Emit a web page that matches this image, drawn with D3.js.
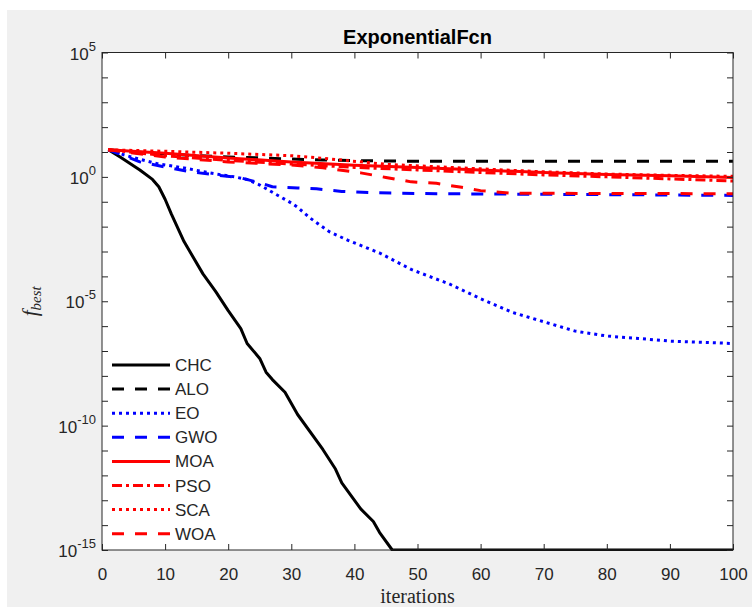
<!DOCTYPE html>
<html><head><meta charset="utf-8">
<script src="https://cdn.jsdelivr.net/npm/d3@7"></script>
<style>body{margin:0;background:#fff}svg{display:block}</style>
</head><body><svg id="c" width="752" height="607"></svg>
<script>
// ---- data ----
const seriesNames = ["CHC","ALO","EO","GWO","MOA","PSO","SCA","WOA"];
const xTicks = [0,10,20,30,40,50,60,70,80,90,100];
const yTickLabels = [5,0,-5,-10,-15]; // exponents of labelled decades

const chcIter = [1,3,6,8,9,10,11,13,16,18,20,22,23,25,26,27,29,31,35,37,38,41,43,44,46,100];
const chcVal  = [12.3,6.0,1.9,0.79,0.40,0.126,0.032,2.5e-3,1.26e-4,2.5e-5,4.2e-6,7.9e-7,2.0e-7,5.0e-8,1.4e-8,7.1e-9,2.2e-9,2.8e-10,1.1e-11,1.8e-12,5.0e-13,4.5e-14,1.4e-14,5.0e-15,1e-15,1e-15];

const aloIter = [1,5,10,15,20,25,30,35,45,100];
const aloVal  = [12.3,10,8.3,7.2,6.3,5.8,5.2,4.8,4.3,4.2];

const eoIter = [1,2,5,9,13,17,21,23,25,27,30,31,33,36,39,44,49,55,60,65,70,75,80,85,90,100];
const eoVal  = [12.3,10,5.9,3.3,2.3,1.45,1.0,0.79,0.47,0.24,0.089,0.060,0.022,6.3e-3,2.8e-3,8.7e-4,1.9e-4,5.0e-5,1.26e-5,3.6e-6,1.5e-6,6.3e-7,4.0e-7,3.2e-7,2.5e-7,2.0e-7];

const gwoIter = [1,2,6,10,14,18,22,25,27,31,34,38,43,53,70,100];
const gwoVal  = [12.3,10,4.0,2.5,1.6,1.2,0.91,0.58,0.40,0.36,0.33,0.26,0.23,0.21,0.20,0.18];

const moaIter = [1,10,20,30,40,50,60,70,80,90,100];
const moaVal  = [12.3,8.9,5.8,4.0,2.95,2.4,1.9,1.5,1.26,1.1,0.95];

const psoIter = [1,10,20,30,40,50,60,70,80,90,100];
const psoVal  = [12.3,7.1,4.6,3.3,2.4,1.9,1.5,1.2,1.0,0.83,0.68];

const scaIter = [1,10,20,30,35,45,60,70,80,90,100];
const scaVal  = [12.3,10.7,8.9,7.1,5.6,3.2,2.1,1.6,1.3,1.15,1.05];

const woaIter = [1,10,20,30,35,41,45,49,53,57,60,65,100];
const woaVal  = [12.3,6.3,4.0,3.0,2.3,1.45,0.95,0.63,0.55,0.38,0.28,0.22,0.21];

const seriesIters = [chcIter,aloIter,eoIter,gwoIter,moaIter,psoIter,scaIter,woaIter];
const seriesVals  = [chcVal,aloVal,eoVal,gwoVal,moaVal,psoVal,scaVal,woaVal];

// ---- styles ----
const seriesColor = ["#000000","#000000","#0000ff","#0000ff","#ff0000","#ff0000","#ff0000","#ff0000"];
const seriesDash  = [null,"12,11","3,4","12,11",null,"10,4,3,4","3,4","12,11"];

const svg = d3.select("#c");
const L=102, R=733, T=52.5, B=550;
const ink = "#262626";
const lw = 3;

svg.append("rect").attr("x",7).attr("y",10).attr("width",745).attr("height",597).attr("fill","#f0f0f0");
svg.append("rect").attr("x",L).attr("y",T).attr("width",R-L).attr("height",B-T).attr("fill","#fff");

const x = d3.scaleLinear().domain([0,100]).range([L,R]);
const y = d3.scaleLog().domain([1e-15,1e5]).range([B,T]);
const decades = d3.range(-15,6).map(e=>Math.pow(10,e));

svg.append("defs").append("clipPath").attr("id","clip")
  .append("rect").attr("x",L).attr("y",T-1).attr("width",R-L).attr("height",B-T+2);

// lines
const line = d3.line().x(d=>x(d[0])).y(d=>y(d[1]));
const g = svg.append("g").attr("clip-path","url(#clip)");
seriesNames.forEach((n,i)=>{
  const pts = seriesIters[i].map((it,k)=>[it,seriesVals[i][k]]);
  g.append("path").datum(pts).attr("d",line)
    .attr("fill","none").attr("stroke",seriesColor[i]).attr("stroke-width",lw)
    .attr("stroke-linejoin","round")
    .attr("stroke-dasharray",seriesDash[i]);
});

// axes
const fontSans = "'Liberation Sans', Arial, sans-serif";
const ax = (sel)=>{sel.select(".domain").remove(); sel.selectAll("line").attr("stroke",ink);
  sel.selectAll("text").attr("fill",ink).style("font-family",fontSans).style("font-size","17px");};
svg.append("g").attr("transform",`translate(0,${B})`)
  .call(d3.axisBottom(x).tickValues(xTicks).tickSize(-6).tickPadding(18).tickFormat(d3.format("d"))).call(ax);
svg.append("g").attr("transform",`translate(0,${T})`)
  .call(d3.axisTop(x).tickValues(xTicks).tickSize(-6).tickFormat("")).call(ax);
svg.append("g").attr("transform",`translate(${L},0)`)
  .call(d3.axisLeft(y).tickValues(decades).tickSize(-6).tickFormat("")).call(ax);
svg.append("g").attr("transform",`translate(${R},0)`)
  .call(d3.axisRight(y).tickValues(decades).tickSize(-6).tickFormat("")).call(ax);
svg.append("rect").attr("x",L).attr("y",T).attr("width",R-L).attr("height",B-T)
  .attr("fill","none").attr("stroke",ink).attr("stroke-width",1);

// y tick labels 10^e
yTickLabels.forEach(e=>{
  const t = svg.append("text").attr("x",96).attr("y",y(Math.pow(10,e))+7)
    .attr("text-anchor","end").attr("fill",ink).style("font-family",fontSans).style("font-size","17px");
  t.append("tspan").text("10");
  t.append("tspan").attr("dy",-9).style("font-size","13px").text(String(e));
});

// title
svg.append("text").attr("x",(L+R)/2).attr("y",44).attr("text-anchor","middle")
  .style("font-family",fontSans).style("font-weight","bold").style("font-size","20px").attr("fill","#000")
  .text("ExponentialFcn");

// x label
svg.append("text").attr("x",(L+R)/2).attr("y",603).attr("text-anchor","middle")
  .style("font-family","'Liberation Serif', 'DejaVu Serif', serif").style("font-size","20px").attr("fill",ink)
  .text("iterations");

// y label
const yl = svg.append("text").attr("transform",`translate(37,${(T+B)/2}) rotate(-90)`).attr("text-anchor","middle")
  .style("font-family","'Liberation Serif', serif").style("font-style","italic").attr("fill",ink);
yl.append("tspan").style("font-size","21px").text("f");
yl.append("tspan").attr("dy",4).style("font-size","15px").text("best");

// legend
const legY0 = 365, legDy = 24.1;
seriesNames.forEach((n,i)=>{
  const yy = legY0 + i*legDy;
  svg.append("line").attr("x1",112).attr("x2",170).attr("y1",yy).attr("y2",yy)
    .attr("stroke",seriesColor[i]).attr("stroke-width",lw).attr("stroke-dasharray",seriesDash[i]);
  svg.append("text").attr("x",175).attr("y",yy+6).attr("fill",ink)
    .style("font-family",fontSans).style("font-size","17px").text(n);
});
</script></body></html>
